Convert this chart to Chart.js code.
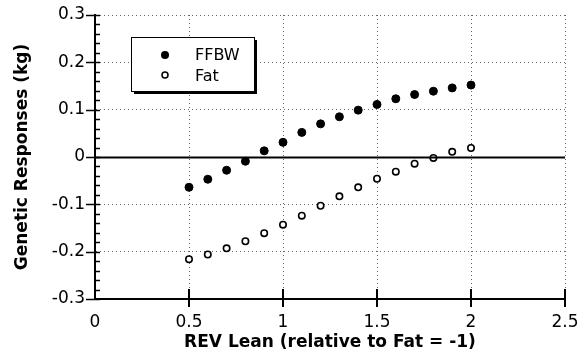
<!DOCTYPE html>
<html>
<head>
<meta charset="utf-8">
<script src="https://cdn.jsdelivr.net/npm/chart.js@4/dist/chart.umd.min.js"></script>
<style>
  html, body { margin: 0; padding: 0; background: #fff; }
  #wrap { width: 578px; height: 353px; }
</style>
</head>
<body>
<div id="wrap"><canvas id="responseChart" width="578" height="353"></canvas></div>
<script>
// REV Lean values (relative to Fat = -1)
const revLean = [0.5, 0.6, 0.7, 0.8, 0.9, 1.0, 1.1, 1.2, 1.3, 1.4, 1.5, 1.6, 1.7, 1.8, 1.9, 2.0];
// genetic responses (kg)
const ffbwResponse = [-0.064, -0.047, -0.028, -0.009, 0.013, 0.031, 0.052, 0.070, 0.085, 0.099, 0.111, 0.123, 0.132, 0.139, 0.146, 0.152];
const fatResponse = [-0.216, -0.206, -0.193, -0.178, -0.161, -0.143, -0.124, -0.103, -0.083, -0.064, -0.046, -0.031, -0.014, -0.002, 0.011, 0.019];
const xTicks = [0, 0.5, 1, 1.5, 2, 2.5];
const yTicks = [-0.3, -0.2, -0.1, 0, 0.1, 0.2, 0.3];
const seriesNames = ['FFBW', 'Fat'];

const fontFamily = "'DejaVu Sans', Verdana, sans-serif";

function toPoints(xs, ys) {
    return xs.map((x, i) => ({ x: x, y: ys[i] }));
}

// zero line, tick marks and boxed legend
const decorPlugin = {
    id: 'decor',
    afterDraw(chart) {
        const ctx = chart.ctx;
        const area = chart.chartArea;
        const xs = chart.scales.x;
        const ys = chart.scales.y;
        ctx.save();
        ctx.strokeStyle = '#000';

        // zero line
        const y0 = Math.round(ys.getPixelForValue(0)) + 0.5;
        ctx.lineWidth = 2;
        ctx.beginPath();
        ctx.moveTo(area.left, y0);
        ctx.lineTo(area.right, y0);
        ctx.stroke();

        // y ticks
        ctx.lineWidth = 1.5;
        for (let v = -0.3; v <= 0.3001; v += 0.02) {
            const py = Math.round(ys.getPixelForValue(v)) + 0.5;
            const major = Math.abs(Math.round(v * 10) - v * 10) < 0.001;
            ctx.beginPath();
            ctx.moveTo(major ? area.left - 9 : area.left, py);
            ctx.lineTo(area.left + 5, py);
            ctx.stroke();
        }
        // x ticks
        ctx.lineWidth = 2;
        xTicks.forEach(v => {
            if (v === 0) return;
            const px = Math.round(xs.getPixelForValue(v));
            ctx.beginPath();
            ctx.moveTo(px, area.bottom - 10);
            ctx.lineTo(px, area.bottom + 8);
            ctx.stroke();
        });

        // legend box with shadow
        const bx = 131, by = 37, bw = 123, bh = 54;
        ctx.fillStyle = '#000';
        ctx.fillRect(bx + 3, by + 3, bw, bh);
        ctx.fillStyle = '#fff';
        ctx.fillRect(bx, by, bw, bh);
        ctx.lineWidth = 1;
        ctx.strokeRect(bx + 0.5, by + 0.5, bw, bh);

        ctx.fillStyle = '#000';
        ctx.beginPath();
        ctx.arc(165, 55, 4, 0, Math.PI * 2);
        ctx.fill();
        ctx.lineWidth = 1.5;
        ctx.beginPath();
        ctx.arc(165, 75, 3, 0, Math.PI * 2);
        ctx.stroke();

        ctx.font = '16px ' + fontFamily;
        ctx.textBaseline = 'middle';
        ctx.textAlign = 'left';
        ctx.fillText(seriesNames[0], 195, 56);
        ctx.fillText(seriesNames[1], 195, 77);
        ctx.restore();
    }
};

const ctx = document.getElementById('responseChart').getContext('2d');
const responseChart = new Chart(ctx, {
    type: 'scatter',
    data: {
        datasets: [{
            label: seriesNames[0],
            data: toPoints(revLean, ffbwResponse),
            pointStyle: 'circle',
            pointRadius: 4,
            backgroundColor: '#000',
            borderColor: '#000',
            borderWidth: 1
        }, {
            label: seriesNames[1],
            data: toPoints(revLean, fatResponse),
            pointStyle: 'circle',
            pointRadius: 3.2,
            backgroundColor: '#fff',
            borderColor: '#000',
            borderWidth: 1.6
        }]
    },
    options: {
        responsive: false,
        animation: false,
        layout: { padding: { top: 15, right: 13, left: 0, bottom: 0 } },
        plugins: {
            legend: { display: false },
            tooltip: { enabled: false }
        },
        scales: {
            x: {
                type: 'linear',
                min: 0,
                max: 2.5,
                afterBuildTicks: scale => { scale.ticks = xTicks.map(v => ({ value: v })); },
                afterFit: scale => {
                    scale.height = 54;
                    scale.paddingLeft = 0;
                    scale.paddingRight = 0;
                },
                grid: { color: '#666', lineWidth: 1, drawTicks: false },
                border: { display: true, color: '#000', width: 2, dash: [1, 3] },
                ticks: {
                    color: '#000',
                    padding: 13,
                    font: { family: fontFamily, size: 17 },
                    callback: v => String(v)
                },
                title: {
                    display: true,
                    text: 'REV Lean (relative to Fat = -1)',
                    color: '#000',
                    padding: { top: 0, bottom: 0 },
                    font: { family: fontFamily, size: 17, weight: 'bold' }
                }
            },
            y: {
                type: 'linear',
                min: -0.3,
                max: 0.3,
                afterBuildTicks: scale => { scale.ticks = yTicks.map(v => ({ value: v })); },
                afterFit: scale => {
                    scale.width = 95;
                    scale.paddingTop = 0;
                    scale.paddingBottom = 0;
                },
                grid: { color: '#666', lineWidth: 1, drawTicks: false },
                border: { display: true, color: '#000', width: 2, dash: [1, 3] },
                ticks: {
                    color: '#000',
                    padding: 10,
                    font: { family: fontFamily, size: 17 },
                    callback: v => (Math.abs(v) < 1e-9 ? '0' : v.toFixed(1))
                },
                title: {
                    display: true,
                    text: 'Genetic Responses (kg)',
                    color: '#000',
                    padding: { top: 12, bottom: 0 },
                    font: { family: fontFamily, size: 17, weight: 'bold' }
                }
            }
        }
    },
    plugins: [decorPlugin]
});
</script>
</body>
</html>
